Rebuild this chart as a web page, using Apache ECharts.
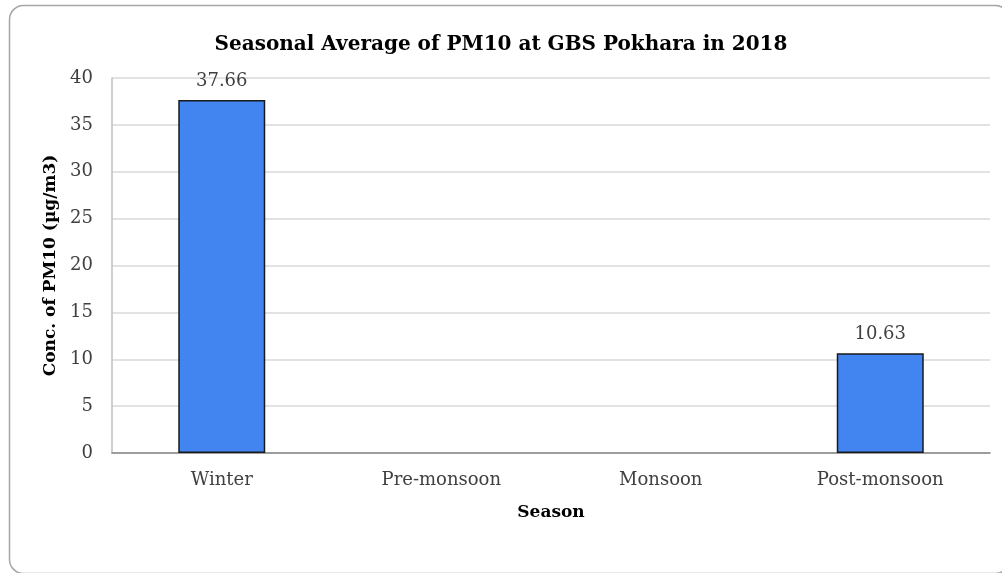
<!DOCTYPE html>
<html>
<head>
<meta charset="utf-8">
<title>Seasonal Average of PM10 at GBS Pokhara in 2018</title>
<script src="https://cdn.jsdelivr.net/npm/echarts@6/dist/echarts.min.js"></script>
<style>
  html, body { margin: 0; padding: 0; background: #ffffff; }
  #chart { width: 1002px; height: 573px; }
</style>
</head>
<body>
<div id="chart"></div>
<script>
// Seasonal mean PM10 concentrations (µg/m3)
var seasons = ['Winter', 'Pre-monsoon', 'Monsoon', 'Post-monsoon'];
var pm10 = [37.66, null, null, 10.63];
var yTicks = { min: 0, max: 40, interval: 5 };

var serif = '"DejaVu Serif", "Liberation Serif", serif';
var textColor = '#404040';

var chart = echarts.init(document.getElementById('chart'), null, { renderer: 'canvas' });

chart.setOption({
  backgroundColor: '#ffffff',
  animation: false,
  graphic: [{
    type: 'rect',
    shape: { x: 9.5, y: 5.5, width: 1000, height: 568, r: 14 },
    style: { fill: 'none', stroke: '#a6a6a6', lineWidth: 1.5 },
    z: -1
  }],
  title: {
    text: 'Seasonal Average of PM10 at GBS Pokhara in 2018',
    left: 'center',
    top: 30,
    textStyle: { fontFamily: serif, fontWeight: 'bold', fontSize: 20, color: '#000000' }
  },
  grid: { left: 112, right: 12, top: 78, bottom: 120, containLabel: false },
  xAxis: {
    type: 'category',
    data: seasons,
    name: 'Season',
    nameLocation: 'middle',
    nameGap: 51,
    nameTextStyle: { fontFamily: serif, fontWeight: 'bold', fontSize: 17, color: '#000000' },
    axisLine: { lineStyle: { color: '#868686', width: 1.5 } },
    axisTick: { show: false },
    axisLabel: { fontFamily: serif, fontSize: 18, color: textColor, margin: 18 }
  },
  yAxis: {
    type: 'value',
    min: yTicks.min,
    max: yTicks.max,
    interval: yTicks.interval,
    name: 'Conc. of PM10 (µg/m3)',
    nameLocation: 'middle',
    nameGap: 50,
    nameTextStyle: { fontFamily: serif, fontWeight: 'bold', fontSize: 17, color: '#000000' },
    axisLine: { show: true, lineStyle: { color: '#bfbfbf', width: 1.5 } },
    axisTick: { show: false },
    splitLine: { lineStyle: { color: '#d9d9d9', width: 1.5 } },
    axisLabel: { fontFamily: serif, fontSize: 18, color: textColor, margin: 19 }
  },
  series: [{
    type: 'bar',
    data: pm10,
    barWidth: 87,
    itemStyle: { color: '#4285f0', borderColor: '#1a1a1a', borderWidth: 1.5 },
    label: {
      show: true,
      position: 'top',
      distance: 10,
      fontFamily: serif,
      fontSize: 18,
      color: textColor,
      formatter: function (p) { return p.value.toFixed(2); }
    }
  }]
});
</script>
</body>
</html>
